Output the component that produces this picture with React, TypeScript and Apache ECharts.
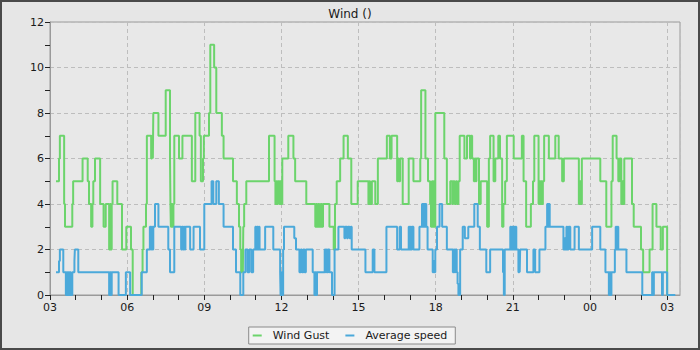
import { useEffect, useRef } from "react";
import * as echarts from "echarts";

const TITLE = "Wind ()";
const GUST_NAME = "Wind Gust";
const AVERAGE_NAME = "Average speed";

// Hour labels along the time axis (one every three hours, starting at 03:00)
const START_HOUR = 3;
const LABEL_STEP_MIN = 180;
const AXIS_END_MIN = 1470;
const DAY_MIN = 1440;

// Y axis range
const SPEED_MIN = 0;
const SPEED_MAX = 12;
const SPEED_STEP = 2;

// [minutes after 03:00, gust speed] – each value holds until the next reading
const windGust: [number, number][] = [
  [14, 5], [21, 6], [23, 7], [33, 4], [35, 3], [52, 4], [54, 5], [76, 6], [88, 5], [91, 4],
  [96, 3], [99, 4], [101, 5], [105, 6], [117, 4], [125, 3], [130, 4], [138, 2], [140, 4], [142, 2],
  [144, 4], [146, 5], [157, 4], [168, 2], [178, 3], [189, 2], [193, 0], [213, 1], [216, 2], [218, 3],
  [224, 4], [226, 7], [236, 6], [238, 7], [240, 6], [241, 8], [253, 7], [270, 9], [280, 6], [281, 4],
  [282, 3], [284, 4], [286, 3], [288, 4], [290, 7], [301, 6], [309, 7], [331, 5], [339, 8], [349, 7],
  [352, 5], [357, 6], [359, 7], [371, 8], [374, 11], [383, 10], [388, 8], [401, 7], [405, 6], [427, 5],
  [436, 4], [441, 3], [444, 2], [446, 1], [448, 2], [450, 1], [451, 3], [453, 4], [458, 5], [511, 7],
  [524, 5], [526, 4], [528, 5], [530, 4], [532, 5], [535, 4], [537, 5], [539, 4], [542, 6], [556, 7],
  [568, 6], [572, 5], [598, 4], [619, 3], [621, 4], [623, 3], [625, 4], [627, 3], [629, 4], [631, 3],
  [633, 4], [635, 3], [637, 4], [652, 3], [662, 2], [665, 4], [669, 5], [677, 6], [685, 7], [695, 6],
  [703, 4], [718, 5], [743, 4], [745, 5], [747, 4], [751, 5], [759, 4], [765, 6], [786, 7], [793, 6],
  [797, 7], [810, 5], [812, 6], [814, 5], [817, 6], [823, 4], [837, 6], [848, 5], [864, 6], [866, 9],
  [876, 6], [882, 5], [887, 4], [889, 3], [891, 5], [893, 3], [895, 5], [897, 3], [899, 8], [920, 6],
  [926, 4], [934, 5], [939, 4], [941, 5], [944, 4], [947, 5], [950, 4], [953, 5], [956, 7], [967, 6],
  [973, 7], [980, 6], [982, 7], [985, 6], [989, 5], [991, 6], [993, 5], [995, 6], [1001, 4], [1005, 5],
  [1020, 3], [1024, 6], [1027, 7], [1035, 5], [1039, 6], [1046, 7], [1050, 6], [1055, 3], [1058, 4], [1062, 5],
  [1066, 7], [1082, 6], [1101, 7], [1105, 5], [1111, 3], [1122, 4], [1127, 5], [1130, 7], [1140, 4], [1142, 5],
  [1144, 4], [1146, 5], [1148, 4], [1150, 5], [1153, 7], [1164, 6], [1179, 7], [1187, 6], [1195, 5], [1199, 6],
  [1234, 4], [1236, 5], [1238, 4], [1241, 6], [1284, 5], [1298, 3], [1310, 5], [1313, 7], [1322, 6], [1326, 5],
  [1329, 6], [1333, 4], [1335, 5], [1337, 4], [1340, 6], [1358, 4], [1362, 3], [1379, 2], [1384, 1], [1399, 2],
  [1406, 4], [1415, 3], [1425, 2], [1430, 3], [1440, 0], [1443, 0],
];

// [minutes after 03:00, average speed]
const averageSpeed: [number, number][] = [
  [14, 1], [21, 1.5], [23, 2], [31, 1], [37, 0], [39, 1], [41, 0], [43, 1], [45, 0], [47, 1],
  [49, 0], [52, 1], [57, 1.5], [58, 2], [66, 1], [138, 0], [140, 1], [142, 0], [144, 1], [160, 0],
  [177, 1], [187, 0], [214, 1], [226, 2], [233, 3], [235, 2], [237, 3], [239, 2], [241, 3], [245, 4],
  [253, 3], [276, 2], [280, 1], [290, 3], [306, 2], [308, 3], [310, 2], [312, 3], [314, 2], [316, 3],
  [327, 2], [335, 3], [350, 2], [360, 4], [377, 5], [381, 4], [388, 5], [394, 4], [405, 3], [427, 2],
  [434, 1], [444, 0], [451, 1], [456, 2], [461, 1], [465, 2], [470, 1], [474, 2], [479, 3], [481, 2],
  [483, 3], [485, 2], [487, 3], [489, 2], [502, 3], [521, 2], [537, 1], [538, 0], [540, 1], [542, 0],
  [544, 2], [546, 3], [570, 2.5], [574, 2], [582, 1], [585, 2], [588, 1], [591, 2], [594, 1], [597, 2],
  [613, 1], [617, 0], [619, 1], [621, 0], [623, 1], [641, 2], [643, 1], [645, 2], [647, 1], [649, 2],
  [652, 1], [658, 0], [664, 2], [673, 3], [687, 2.5], [689, 3], [693, 2.5], [695, 3], [699, 2.5], [702, 3],
  [704, 2], [736, 1], [753, 2], [757, 1], [785, 3], [810, 2], [816, 3], [819, 2], [837, 3], [839, 2],
  [841, 3], [843, 2], [845, 3], [848, 2], [862, 3], [868, 4], [870, 3], [872, 4], [874, 3], [876, 4],
  [878, 3], [881, 2], [893, 1], [895, 1.5], [897, 1], [899, 2], [903, 3], [909, 4], [915, 3], [926, 2],
  [940, 1], [942, 2], [944, 1], [946, 2], [949, 1], [951, 0.5], [953, 0], [957, 2], [963, 3], [968, 2.5],
  [976, 3], [990, 4], [998, 3], [1003, 2], [1018, 1], [1027, 2], [1057, 1], [1059, 0], [1061, 2], [1074, 3],
  [1076, 2], [1078, 3], [1080, 2], [1082, 3], [1084, 2], [1086, 3], [1088, 2], [1093, 1], [1095, 2], [1096, 1],
  [1097, 2], [1113, 1], [1128, 2], [1132, 1], [1142, 2], [1156, 3], [1160, 4], [1162, 3], [1164, 4], [1166, 3],
  [1198, 2], [1200, 2.5], [1202, 2], [1205, 3], [1207, 2], [1210, 3], [1214, 2], [1224, 3], [1234, 2], [1265, 3],
  [1284, 2], [1296, 1], [1304, 0], [1306, 1], [1308, 0], [1310, 1], [1318, 2], [1320, 3], [1322, 2], [1324, 3],
  [1326, 2], [1345, 1], [1382, 0], [1405, 1], [1407, 0], [1409, 1], [1428, 0], [1430, 1], [1440, 0], [1459, 0],
];

const FONT = "DejaVu Sans";
const GUST_COLOR = "#6cd46c";
const AVERAGE_COLOR = "#4ba9da";

function hourLabel(v: number): string {
  if (v % LABEL_STEP_MIN !== 0) return "";
  const h = (START_HOUR + v / 60) % 24;
  return String(h).padStart(2, "0");
}

export default function App() {
  const ref = useRef<HTMLDivElement>(null);

  useEffect(() => {
    if (!ref.current) return;
    const chart = echarts.init(ref.current, undefined, { renderer: "svg" });

    const plotLeft = 50;
    const plotRight = 20;
    const plotTop = 22;
    const plotBottom = 55;
    const plotWidth = 700 - plotLeft - plotRight;
    // second (tick-only) grid spans exactly one day so hourly ticks stop at 03:00
    const dayWidth = (plotWidth * DAY_MIN) / AXIS_END_MIN;

    chart.setOption({
      animation: false,
      backgroundColor: "#e6e6e6",
      textStyle: { fontFamily: FONT },
      title: {
        text: TITLE,
        left: "center",
        top: 3,
        textStyle: { fontSize: 12, fontWeight: "normal", color: "#1a1a1a", fontFamily: FONT },
      },
      graphic: [
        {
          type: "rect",
          z: 100,
          shape: { x: 1, y: 1, width: 698, height: 348 },
          style: { fill: "none", stroke: "#4a4a4a", lineWidth: 2 },
          silent: true,
        },
      ],
      legend: {
        top: 327,
        left: "center",
        icon: "rect",
        itemWidth: 9,
        itemHeight: 2,
        itemGap: 16,
        backgroundColor: "#f3f3f3",
        borderColor: "#8a8a8a",
        borderWidth: 1,
        borderRadius: 0,
        padding: [3, 8, 3, 4],
        textStyle: { fontSize: 11, color: "#1a1a1a", fontFamily: FONT, padding: [0, 0, 0, 6] },
        data: [GUST_NAME, AVERAGE_NAME],
      },
      grid: [
        {
          left: plotLeft,
          right: plotRight,
          top: plotTop,
          bottom: plotBottom,
          show: true,
          backgroundColor: "#e8e8e8",
          borderColor: "#9a9a9a",
          borderWidth: 1,
        },
        {
          left: plotLeft,
          width: dayWidth,
          top: plotTop,
          bottom: plotBottom,
          show: false,
        },
      ],
      xAxis: [
        {
          type: "value",
          gridIndex: 0,
          min: 0,
          max: AXIS_END_MIN,
          interval: LABEL_STEP_MIN,
          axisLine: { show: true, lineStyle: { color: "#9a9a9a", width: 1 } },
          axisTick: { show: false },
          axisLabel: {
            formatter: hourLabel,
            fontSize: 11,
            color: "#1a1a1a",
            fontFamily: FONT,
            margin: 7,
            showMaxLabel: false,
          },
          splitLine: { show: true, lineStyle: { color: "#bdbdbd", type: [4, 3], width: 1 } },
        },
        {
          type: "value",
          gridIndex: 1,
          min: 0,
          max: DAY_MIN,
          interval: 60,
          axisLine: { show: false },
          axisTick: { show: true, length: 5, lineStyle: { color: "#222", width: 1 } },
          axisLabel: { show: false },
          splitLine: { show: false },
        },
      ],
      yAxis: [
        {
          type: "value",
          gridIndex: 0,
          min: SPEED_MIN,
          max: SPEED_MAX,
          interval: SPEED_STEP,
          axisLine: { show: true, lineStyle: { color: "#9a9a9a", width: 1 } },
          axisTick: { show: true, length: 5, lineStyle: { color: "#222", width: 1 } },
          minorTick: { show: true, splitNumber: 2, length: 5, lineStyle: { color: "#222", width: 1 } },
          axisLabel: { fontSize: 11, color: "#1a1a1a", fontFamily: FONT, margin: 6 },
          splitLine: { show: true, lineStyle: { color: "#bdbdbd", type: [4, 3], width: 1 } },
        },
        {
          type: "value",
          gridIndex: 1,
          show: false,
          min: SPEED_MIN,
          max: SPEED_MAX,
        },
      ],
      series: [
        {
          name: GUST_NAME,
          type: "line",
          xAxisIndex: 0,
          yAxisIndex: 0,
          step: "end",
          showSymbol: false,
          symbol: "none",
          color: GUST_COLOR,
          lineStyle: { color: GUST_COLOR, width: 2 },
          data: windGust,
        },
        {
          name: AVERAGE_NAME,
          type: "line",
          xAxisIndex: 0,
          yAxisIndex: 0,
          step: "end",
          showSymbol: false,
          symbol: "none",
          color: AVERAGE_COLOR,
          lineStyle: { color: AVERAGE_COLOR, width: 2 },
          data: averageSpeed,
        },
      ],
    });

    return () => chart.dispose();
  }, []);

  return (
    <div
      ref={ref}
      style={{ position: "absolute", left: 0, top: 0, width: 700, height: 350 }}
    />
  );
}
